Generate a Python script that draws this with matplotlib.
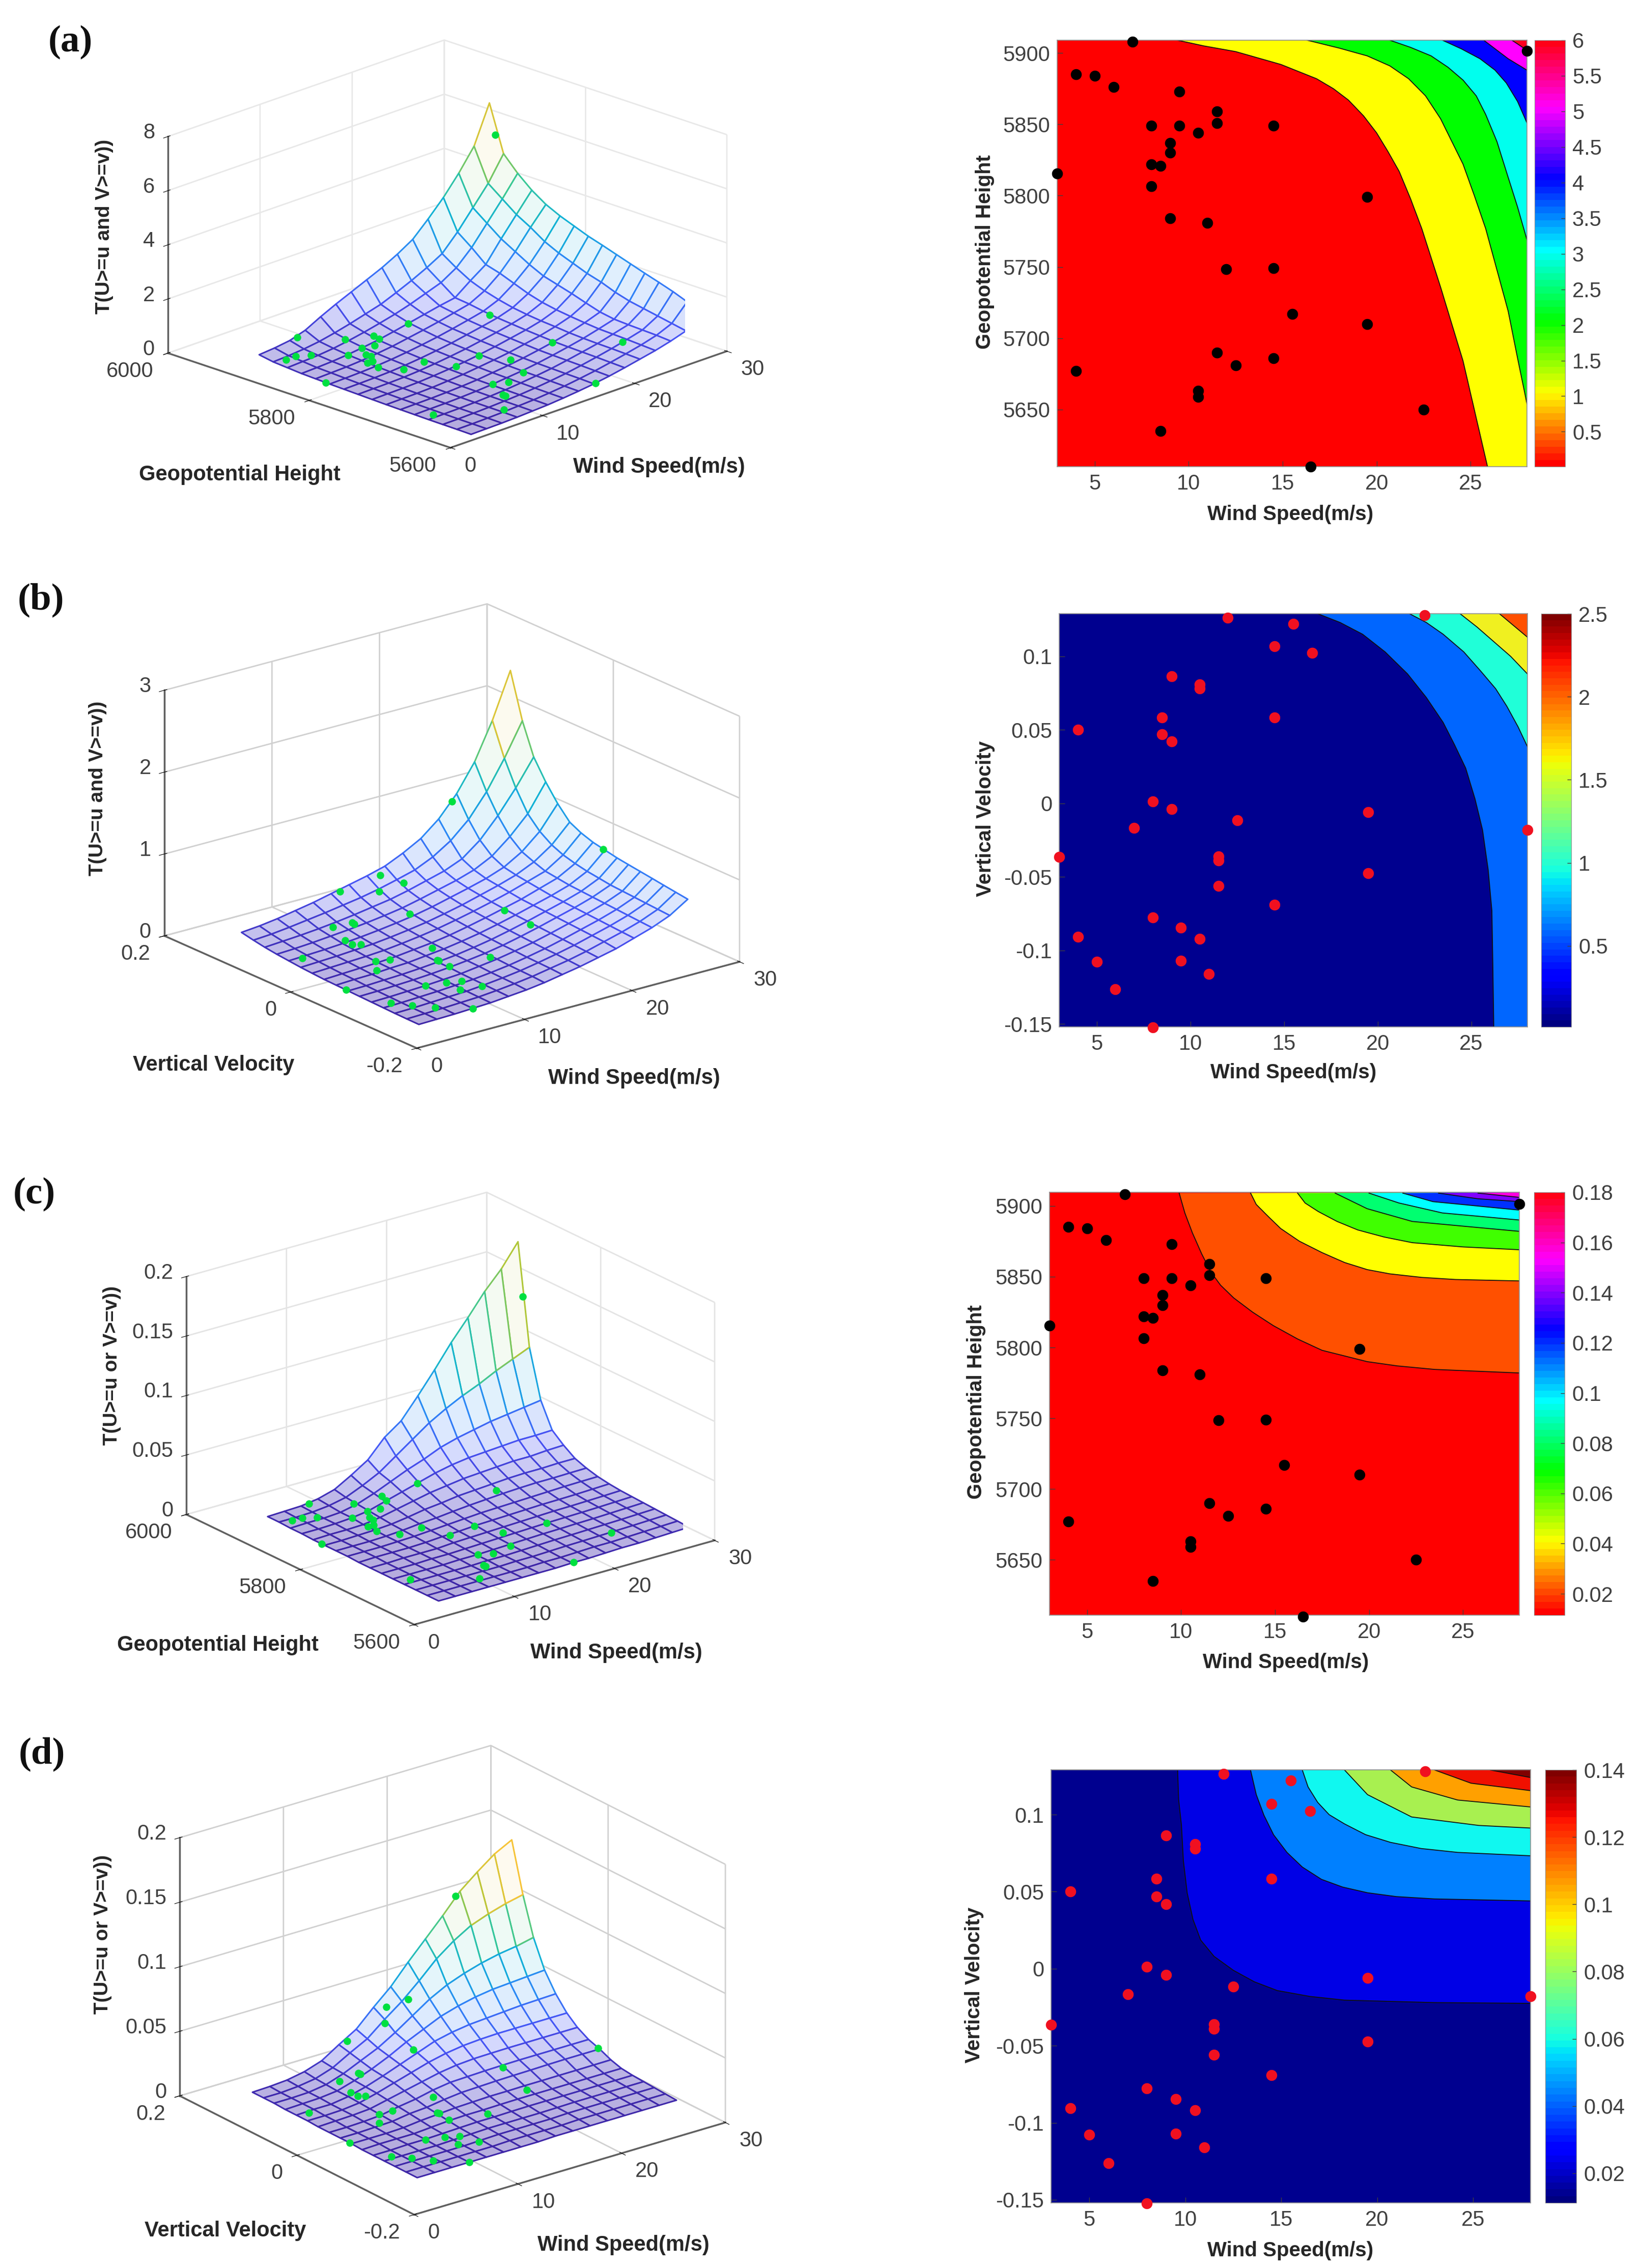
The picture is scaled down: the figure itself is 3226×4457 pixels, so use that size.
import numpy as np
import matplotlib
matplotlib.use("Agg")
import matplotlib.pyplot as plt
from matplotlib.cm import ScalarMappable
from matplotlib.colors import LinearSegmentedColormap, Normalize
from mpl_toolkits.mplot3d import proj3d

W, H = 3226, 4457
plt.rcParams['font.family'] = ['Liberation Sans', 'DejaVu Sans']
plt.rcParams['axes.unicode_minus'] = False

wind_g = [7, 4, 5, 6, 9.5, 11.5, 11.5, 8, 9.5, 10.5, 14.5, 9, 9, 8, 8.5, 3, 8, 19.5, 9, 11, 12, 14.5, 15.5, 19.5, 11.5, 14.5, 12.5, 4, 10.5, 10.5, 22.5, 8.5, 16.5, 28]
gph = [5908, 5885, 5884, 5876, 5873, 5859, 5851, 5849, 5849, 5844, 5849, 5837, 5830, 5822, 5821, 5815.5, 5806.5, 5799, 5784, 5781, 5748.5, 5749, 5717, 5710, 5690, 5686, 5681, 5677, 5663, 5659, 5650, 5635, 5610, 5901.5]
wind_v = [12, 15.5, 14.5, 16.5, 9, 10.5, 10.5, 8.5, 14.5, 4, 8.5, 9, 8, 9, 19.5, 12.5, 7, 28, 3, 11.5, 11.5, 19.5, 11.5, 14.5, 8, 9.5, 4, 10.5, 5, 9.5, 11, 6, 8, 22.5]
vvel = [0.1264, 0.122, 0.107, 0.1025, 0.0866, 0.081, 0.078, 0.0585, 0.0585, 0.05, 0.047, 0.042, 0.0013, -0.004, -0.006, -0.0115, -0.0166, -0.018, -0.0365, -0.036, -0.039, -0.0474, -0.056, -0.069, -0.0777, -0.0846, -0.0906, -0.092, -0.1076, -0.107, -0.116, -0.1264, -0.1523, 0.128]

# return period of each point
t_a = [.55, .29, .30, .30, .48, .50, .46, .30, .37, .40, .68, .30, .30, .24, .26, .17, .22, .85, .22, .29, .28, .38, .38, .61, .20, .30, .23, .08, .15, .15, .80, .10, .34, 5.6]
t_b = [.37, .46, .35, .40, .18, .20, .19, .13, .24, .10, .12, .12, .09, .09, .33, .14, .075, .82, .045, .11, .11, .30, .10, .15, .06, .07, .035, .08, .03, .06, .08, .035, .04, 1.1]
t_c = [.014, .012, .012, .012, .016, .021, .019, .013, .015, .016, .027, .014, .0135, .012, .0125, .011, .012, .0205, .012, .0135, .0125, .014, .0135, .014, .011, .012, .0115, .0105, .0105, .0105, .0125, .0105, .011, .14]
t_d = [.031, .05, .043, .058, .016, .02, .02, .015, .034, .012, .015, .015, .0125, .014, .023, .018, .012, .0205, .011, .014, .014, .015, .013, .0135, .011, .011, .0105, .011, .0105, .0105, .011, .0105, .0105, .118]

# mesh nodes
wind_grid = [3, 4.67, 6.33, 8, 9.67, 11.33, 13, 14.67, 16.33, 18, 19.67, 21.33, 23, 24.67, 26.33, 28]
gph_grid = [5610, 5630, 5650, 5670, 5690, 5710, 5730, 5750, 5770, 5790, 5810, 5830, 5850, 5870, 5890, 5910]
vv_grid = [-.152, -.133, -.114, -.096, -.077, -.058, -.040, -.021, -.002, .017, .035, .054, .073, .092, .110, .129]

surf_a = [
    [.05, .06, .07, .09, .12, .15, .20, .26, .33, .42, .53, .65, .77, .92, 1.1, 1.6],
    [.06, .065, .08, .10, .13, .16, .21, .27, .35, .44, .55, .67, .80, .96, 1.2, 1.8],
    [.065, .07, .085, .105, .135, .17, .22, .285, .36, .46, .57, .69, .83, .98, 1.3, 2.0],
    [.07, .08, .09, .11, .14, .18, .235, .30, .375, .475, .585, .70, .85, 1.0, 1.4, 2.17],
    [.08, .09, .10, .12, .15, .19, .25, .31, .39, .49, .60, .72, .87, 1.03, 1.5, 2.33],
    [.09, .10, .11, .13, .16, .20, .265, .33, .41, .51, .62, .75, .92, 1.12, 1.65, 2.5],
    [.10, .11, .12, .14, .18, .225, .29, .36, .44, .55, .66, .80, .98, 1.28, 1.85, 2.67],
    [.115, .125, .135, .155, .195, .245, .31, .39, .48, .59, .70, .84, 1.05, 1.45, 2.0, 2.84],
    [.13, .14, .15, .17, .21, .27, .34, .42, .52, .63, .75, .90, 1.15, 1.6, 2.2, 3.0],
    [.145, .155, .17, .195, .24, .30, .375, .46, .57, .68, .80, .98, 1.3, 1.75, 2.4, 3.2],
    [.16, .175, .195, .225, .275, .34, .42, .51, .62, .74, .87, 1.1, 1.5, 2.0, 2.65, 3.4],
    [.18, .20, .22, .26, .32, .39, .49, .59, .70, .83, .96, 1.25, 1.7, 2.3, 3.0, 3.65],
    [.20, .22, .25, .30, .37, .45, .56, .68, .80, .92, 1.02, 1.45, 1.85, 2.6, 3.3, 4.0],
    [.24, .27, .30, .36, .45, .56, .69, .83, 1.0, 1.2, 1.4, 1.75, 2.3, 3.0, 3.7, 4.45],
    [.28, .31, .36, .44, .56, .70, .86, 1.02, 1.25, 1.5, 1.78, 2.1, 2.7, 3.4, 4.1, 5.0],
    [.37, .42, .50, .68, .98, 1.25, 1.5, 1.75, 2.0, 2.3, 2.65, 3.2, 3.8, 4.5, 5.3, 6.7],
]
surf_b = [
    [.02, .025, .03, .04, .05, .07, .09, .12, .16, .20, .25, .30, .37, .44, .53, .67],
    [.022, .028, .035, .045, .055, .075, .10, .13, .17, .21, .26, .32, .38, .45, .54, .69],
    [.025, .03, .04, .05, .06, .08, .105, .135, .175, .22, .27, .33, .39, .46, .55, .71],
    [.03, .035, .045, .055, .07, .085, .11, .14, .18, .225, .28, .34, .40, .47, .56, .73],
    [.035, .04, .05, .06, .075, .09, .12, .15, .19, .235, .29, .35, .41, .48, .57, .75],
    [.04, .045, .055, .065, .08, .10, .125, .155, .195, .245, .30, .36, .42, .49, .58, .77],
    [.045, .05, .06, .07, .085, .105, .13, .165, .205, .255, .31, .37, .43, .50, .60, .79],
    [.05, .06, .065, .08, .09, .115, .14, .175, .215, .265, .32, .38, .44, .51, .62, .82],
    [.055, .065, .075, .085, .10, .125, .15, .185, .23, .28, .335, .39, .46, .53, .65, .85],
    [.065, .075, .085, .095, .11, .135, .165, .20, .245, .295, .35, .41, .48, .55, .69, .90],
    [.075, .085, .095, .11, .125, .15, .18, .215, .26, .31, .37, .43, .50, .60, .75, .97],
    [.09, .10, .11, .125, .145, .17, .20, .235, .28, .335, .39, .45, .53, .66, .85, 1.13],
    [.105, .115, .13, .15, .17, .195, .225, .26, .31, .365, .42, .49, .60, .78, 1.0, 1.33],
    [.125, .14, .155, .175, .20, .23, .265, .30, .35, .41, .47, .56, .73, .97, 1.25, 1.57],
    [.15, .165, .19, .22, .25, .285, .32, .365, .42, .48, .58, .72, .92, 1.2, 1.55, 1.95],
    [.18, .20, .23, .27, .31, .36, .41, .46, .52, .62, .74, .92, 1.17, 1.5, 1.95, 2.5],
]
surf_c = [
    [.0105, .0105, .0105, .0105, .0105, .0105, .0105, .0105, .011, .011, .0115, .012, .012, .0125, .013, .0135],
    [.0105, .0105, .0105, .0105, .0105, .0105, .0105, .011, .011, .0115, .012, .012, .0125, .013, .0135, .014],
    [.0105, .0105, .0105, .0105, .0105, .0105, .011, .011, .0115, .012, .0123, .0127, .0131, .0135, .014, .0145],
    [.0105, .0105, .0105, .0105, .0105, .011, .011, .0115, .012, .0125, .0128, .0132, .0136, .014, .0145, .015],
    [.0105, .0105, .0105, .0105, .011, .011, .0115, .012, .0125, .013, .0133, .0137, .014, .0145, .015, .0155],
    [.0105, .0105, .0105, .011, .011, .0115, .012, .0125, .013, .0135, .014, .0143, .0146, .015, .0155, .016],
    [.0105, .0105, .011, .011, .011, .012, .0125, .013, .0135, .014, .0145, .015, .0152, .0156, .016, .0165],
    [.0105, .011, .011, .011, .0115, .0125, .013, .014, .0145, .015, .0155, .016, .0162, .0165, .017, .0175],
    [.011, .011, .011, .0115, .012, .013, .014, .015, .016, .0165, .017, .0175, .018, .0185, .0188, .019],
    [.011, .011, .011, .0115, .0125, .014, .015, .0165, .0178, .0188, .0198, .0205, .021, .021, .0213, .0215],
    [.011, .011, .0115, .012, .013, .015, .0175, .019, .021, .022, .023, .024, .0245, .0245, .025, .025],
    [.011, .0115, .0115, .012, .014, .017, .02, .023, .025, .027, .028, .029, .030, .030, .031, .0315],
    [.0115, .0115, .012, .013, .015, .019, .023, .027, .031, .034, .036, .037, .038, .039, .039, .0395],
    [.0115, .012, .012, .013, .016, .021, .027, .033, .038, .044, .048, .051, .054, .056, .058, .06],
    [.012, .012, .0125, .014, .017, .023, .03, .04, .05, .06, .068, .075, .081, .088, .094, .10],
    [.012, .0125, .013, .015, .019, .027, .036, .051, .061, .078, .096, .115, .132, .15, .165, .184],
]
surf_d = [
    [.0105, .0105, .0105, .0105, .0105, .0105, .0105, .0105, .011, .011, .011, .011, .011, .011, .011, .011],
    [.0105, .0105, .0105, .0105, .0105, .0105, .011, .011, .011, .011, .0115, .0115, .0115, .0115, .0115, .0115],
    [.0105, .0105, .0105, .0105, .0105, .011, .0115, .0115, .0115, .0115, .012, .012, .012, .012, .012, .012],
    [.0105, .0105, .0105, .0105, .011, .0115, .012, .012, .012, .012, .0122, .0125, .0125, .0125, .0125, .0125],
    [.0105, .0105, .011, .011, .0115, .012, .0125, .0125, .0128, .013, .013, .013, .013, .013, .013, .013],
    [.0105, .011, .011, .011, .012, .013, .0135, .0135, .0138, .014, .014, .014, .014, .014, .014, .014],
    [.011, .011, .011, .0115, .013, .014, .015, .0155, .016, .016, .0162, .0162, .0163, .0163, .0164, .0165],
    [.011, .011, .0115, .012, .014, .015, .017, .0185, .019, .0195, .0198, .02, .0203, .0205, .0205, .0205],
    [.011, .011, .0115, .0125, .015, .017, .02, .022, .0225, .023, .0233, .0235, .0235, .0235, .0235, .0235],
    [.011, .0115, .012, .013, .016, .019, .022, .025, .027, .028, .0283, .0285, .0285, .0285, .0285, .0285],
    [.0115, .0115, .012, .0135, .017, .021, .025, .029, .032, .034, .035, .0355, .0355, .0355, .0355, .0355],
    [.0115, .012, .012, .014, .0175, .022, .027, .032, .037, .04, .042, .043, .044, .045, .0455, .046],
    [.0115, .012, .0125, .014, .018, .023, .029, .036, .042, .048, .052, .055, .057, .058, .059, .06],
    [.012, .012, .0125, .0145, .019, .025, .031, .039, .048, .057, .064, .069, .073, .076, .078, .081],
    [.012, .012, .013, .015, .0195, .027, .034, .045, .055, .067, .08, .09, .098, .103, .107, .11],
    [.012, .0125, .0135, .016, .0205, .029, .037, .05, .062, .077, .091, .105, .12, .131, .141, .148],
]

# contour boundaries
bound_a_w = [
    [9.4, 10.8, 12.5, 14.9, 16.8, 17.7, 18.5, 19.3, 20, 20.6, 21.2, 21.8, 22.4, 23.4, 24.6, 25.9],
    [16.3, 18, 19.5, 20.7, 21.7, 22.6, 23.4, 24, 24.6, 25.2, 25.8, 26.4, 27, 27.5, 28],
    [20.7, 21.8, 22.9, 23.8, 24.6, 25.3, 25.8, 26.4, 26.9, 27.5, 28],
    [23.5, 24.5, 25.5, 26.3, 26.9, 27.5, 28],
    [25.7, 27, 28],
    [27.2, 28],
]
bound_a_y = [
    [5909, 5905, 5901, 5892, 5882, 5875, 5867, 5856, 5844, 5831, 5817, 5798, 5777, 5736, 5684, 5610],
    [5909, 5903.5, 5898, 5891, 5882, 5870, 5854, 5838, 5822, 5800, 5777, 5748, 5719, 5686, 5654],
    [5909, 5904, 5898, 5890, 5881, 5870, 5857, 5838, 5817, 5792, 5769],
    [5909, 5903, 5896, 5888, 5879, 5866, 5851],
    [5909, 5896, 5888],
    [5909, 5902],
]
bound_b_w = [
    [16.8, 18, 19.2, 20.4, 21.6, 22.6, 23.5, 24.1, 24.7, 25.2, 25.6, 25.9, 26.1, 26.15, 26.2],
    [21.7, 22.6, 23.5, 24.6, 25.5, 26.3, 26.9, 27.5, 28],
    [24.4, 25.3, 26.2, 27.1, 28],
    [26.5, 28],
]
bound_b_y = [
    [.129, .123, .115, .103, .088, .072, .055, .04, .024, .003, -.018, -.045, -.073, -.11, -.152],
    [.129, .123, .115, .103, .09, .078, .066, .052, .0385],
    [.129, .12, .11, .1, .088],
    [.129, .113],
]
bound_c_w = [
    [9.9, 10.2, 10.6, 11.1, 11.6, 12.1, 12.8, 13.8, 14.9, 16.2, 17.5, 18.7, 19.9, 21.5, 23.5, 28],
    [13.7, 14, 14.6, 15.3, 16.3, 17.5, 18.7, 19.9, 21.1, 22.8, 24.6, 28],
    [16.2, 16.6, 17.3, 18.3, 19.4, 20.8, 22.3, 25, 28],
    [18.2, 19.9, 22.3, 28],
    [20, 21.6, 23.9, 28],
    [21.8, 23.4, 28],
    [23.7, 25.8, 28],
    [25.8, 28],
]
bound_c_y = [
    [5909, 5895, 5881, 5866, 5853, 5844, 5835, 5825, 5815.5, 5806, 5798, 5794, 5790, 5787, 5784.5, 5782],
    [5909, 5901, 5893, 5884, 5875, 5867, 5860, 5855, 5852, 5849.5, 5848, 5847],
    [5909, 5902, 5896, 5889, 5883, 5878, 5874, 5871, 5869],
    [5909, 5898, 5889, 5882],
    [5909, 5902, 5895, 5890],
    [5909, 5903, 5897],
    [5909, 5905, 5903],
    [5909, 5906],
]
bound_d_w = [
    [9.6, 9.65, 9.8, 9.9, 10.1, 10.4, 10.8, 11.5, 12.5, 13.6, 14.8, 16.5, 18.3, 23, 28],
    [13.4, 13.7, 14.1, 14.6, 15.3, 16.1, 17.1, 18.2, 19.5, 21, 23, 28],
    [16.1, 16.4, 16.9, 17.5, 18.3, 19.4, 20.7, 22.3, 24.2, 28],
    [18.3, 19.5, 21.8, 25.3, 28],
    [20.7, 21.8, 24.2, 28],
    [23, 24.9, 28],
    [25.9, 28],
]
bound_d_y = [
    [.129, .11, .093, .07, .049, .032, .0186, .008, -.001, -.0085, -.0142, -.018, -.0204, -.022, -.0225],
    [.129, .113, .0996, .087, .0755, .066, .058, .053, .0493, .0468, .0453, .044],
    [.129, .118, .108, .1, .094, .087, .082, .078, .0755, .0733],
    [.129, .113, .0985, .093, .0913],
    [.129, .118, .1095, .105],
    [.129, .1204, .1156],
    [.129, .1241],
]

band_a = ['#ff0000', '#ffff00', '#00ff00', '#00ffee', '#0000ff', '#ff00ff', '#ff0020']
band_b = ['#00008f', '#0066ff', '#20ffd8', '#f0f020', '#ff5000']
band_c = ['#ff0000', '#ff5000', '#ffff00', '#40ff00', '#00ff70', '#00ffff', '#0030ff', '#8000ff', '#ff00e0']
band_d = ['#00008f', '#0000e6', '#0080ff', '#10f8f0', '#a8f050', '#ffa000', '#f01000', '#800000']

gph_ticks = [5650, 5700, 5750, 5800, 5850, 5900]
vv_ticks = [-.15, -.1, -.05, 0, .05, .1]
vv_labels = ['-0.15', '-0.1', '-0.05', '0', '0.05', '0.1']
wind_ticks = [5, 10, 15, 20, 25]

cb_a_ticks = [.5, 1, 1.5, 2, 2.5, 3, 3.5, 4, 4.5, 5, 5.5, 6]
cb_b_ticks = [.5, 1, 1.5, 2, 2.5]
cb_c_ticks = [.02, .04, .06, .08, .1, .12, .14, .16, .18]
cb_d_ticks = [.02, .04, .06, .08, .1, .12, .14]

parula = LinearSegmentedColormap.from_list('parula', [
    (0.2422, 0.1504, 0.6603), (0.2810, 0.3228, 0.9579), (0.1786, 0.5289, 0.9682),
    (0.0689, 0.6948, 0.8394), (0.2161, 0.7843, 0.5923), (0.6720, 0.7793, 0.2227),
    (0.9970, 0.7659, 0.2199), (0.9769, 0.9839, 0.0805)])

TICK = '#404040'
fig = plt.figure(figsize=(W / 100, H / 100), dpi=100)


def put_text(x, y, s, **kw):
    fig.text(x / W, 1 - y / H, s, ha='center', va='center', **kw)


def filled_panel(box, cbox, ylim, bw, by, bands, yticks, ylabels, px, py, dot, cmap, clim, cticks, ylab, ylab_xy, xlab_xy):
    l, t, r, b = box
    ax = fig.add_axes([l / W, 1 - b / H, (r - l) / W, (b - t) / H])
    ax.set_xlim(3, 28)
    ax.set_ylim(ylim)
    ax.set_facecolor(bands[0])
    for xs, ys, col in zip(bw, by, bands[1:]):
        # region between the traced boundary and the top right corner
        ax.fill(list(xs) + [28, 28], list(ys) + [ys[-1], ylim[1]], color=col, lw=0, zorder=1)
        ax.plot(xs, ys, color='#101010', lw=1.3, zorder=2)
    ax.scatter(px, py, s=240, c=dot, lw=0, clip_on=False, zorder=5)
    ax.set_xticks(wind_ticks)
    ax.set_yticks(yticks)
    ax.set_yticklabels(ylabels)
    ax.tick_params(direction='in', length=8, width=1, colors=TICK, labelsize=30, pad=10)
    for sp in ax.spines.values():
        sp.set_color('#909090')
        sp.set_linewidth(1.2)

    l, t, r, b = cbox
    cax = fig.add_axes([l / W, 1 - b / H, (r - l) / W, (b - t) / H])
    sm = ScalarMappable(Normalize(*clim), plt.get_cmap(cmap, 64))
    cb = fig.colorbar(sm, cax=cax, ticks=cticks)
    cb.ax.set_yticklabels(['%g' % v for v in cticks])
    cb.ax.tick_params(direction='in', length=6, width=1, colors=TICK, labelsize=30, pad=10)
    cb.outline.set_edgecolor('#909090')
    put_text(*ylab_xy, ylab, rotation=90, fontsize=29, fontweight='bold', color='#262626')
    put_text(*xlab_xy, 'Wind Speed(m/s)', fontsize=29, fontweight='bold', color='#262626')


def mesh_panel(ylim, ygrid, surf, zmax, zticks, zlabels, yticks, ylabels, px, py, pz, view, aspect,
               front, left, right, grid_col, zlab, zlab_xy, wind_xy, ylab, ylab_xy):
    ax = fig.add_axes([.1, .1, .3, .2], projection='3d', proj_type='ortho', computed_zorder=False)
    ax.patch.set_visible(False)
    ax.view_init(elev=view[0], azim=view[1])
    ax.set_box_aspect(aspect, zoom=1.2)
    ax.set_xlim(0, 30)
    ax.set_ylim(*ylim)
    ax.set_zlim(0, zmax)
    X, Y = np.meshgrid(wind_grid, ygrid)
    Z = np.array(surf)
    norm = Normalize(Z.min(), Z.max())
    mid = (Z[:-1, :-1] + Z[1:, :-1] + Z[:-1, 1:] + Z[1:, 1:]) / 4
    edge = parula(norm(mid)).reshape(-1, 4)
    # pale tint in the low cells, where the original mesh lines crowd together
    mix = (.08 + .3 * (1 - norm(mid)) ** 4).reshape(-1, 1)
    face = 1 - mix + mix * edge
    face[:, 3] = 1
    s = ax.plot_surface(X, Y, Z, rstride=1, cstride=1, color='white', shade=False, lw=2.2, zorder=2)
    s.set_facecolor(face)
    s.set_edgecolor(edge)
    ax.scatter(px, py, pz, s=110, c='#00e040', depthshade=False, lw=0, zorder=3)
    ax.set_xticks([0, 10, 20, 30])
    ax.set_yticks(yticks)
    ax.set_zticks(zticks)
    ax.set_xticklabels([])
    ax.set_yticklabels([])
    ax.set_zticklabels([])
    for axis in (ax.xaxis, ax.yaxis, ax.zaxis):
        axis.set_pane_color((1, 1, 1, 0))
        axis.pane.set_edgecolor(grid_col)
        axis.pane.set_linewidth(2)
        axis.line.set_color('#606060')
        axis.line.set_linewidth(2.5)
        axis._axinfo['grid'].update(color=grid_col, linewidth=2)
    # move the box so its floor corners land where they sit in the figure
    side = 800.0
    cx, cy = left[0], left[1]
    for _ in range(4):
        ax.set_position([(cx - side / 2) / W, 1 - (cy + side / 2) / H, side / W, side / H])
        ax.apply_aspect()
        M = ax.get_proj()
        pts = []
        for c in ((0, ylim[0]), (0, ylim[1]), (30, ylim[0])):
            u, v, _z = proj3d.proj_transform(c[0], c[1], 0, M)
            q = ax.transData.transform((u, v))
            pts.append((q[0], H - q[1]))
        pts = np.array(pts)
        tgt = np.array([front, left, right], dtype=float)
        side *= (tgt[2, 0] - tgt[1, 0]) / (pts[2, 0] - pts[1, 0])
        cx += (tgt - pts)[:, 0].mean()
        cy += (tgt - pts)[:, 1].mean()
    ax.set_position([(cx - side / 2) / W, 1 - (cy + side / 2) / H, side / W, side / H])
    ax.apply_aspect()
    M = ax.get_proj()

    def tick_label(x, y, z, s, dx, dy, ha):
        u, v, _z = proj3d.proj_transform(x, y, z, M)
        ax.annotate(s, (u, v), xytext=(dx, dy), textcoords='offset pixels', ha=ha, va='center',
                    fontsize=30, color=TICK, annotation_clip=False)

    for w in [0, 10, 20, 30]:
        tick_label(w, ylim[0], 0, str(w), 27, -36, 'left')
    for y, s in zip(yticks, ylabels):
        tick_label(0, y, 0, s, -28, -36, 'right')
    for z, s in zip(zticks, zlabels):
        tick_label(0, ylim[1], z, s, -26, 7, 'right')
    put_text(*zlab_xy, zlab, rotation=90, fontsize=28, fontweight='bold', color='#262626')
    put_text(*wind_xy, 'Wind Speed(m/s)', fontsize=30, fontweight='bold', color='#262626')
    put_text(*ylab_xy, ylab, fontsize=30, fontweight='bold', color='#262626')


gph_lim = (5600, 6000)
vv_lim = (-.2, .2)

mesh_panel(gph_lim, gph_grid, surf_a, 8, [0, 2, 4, 6, 8], ['0', '2', '4', '6', '8'], [5600, 5800, 6000], ['5600', '5800', '6000'],
           wind_g, gph, t_a, (20, -135.6), (776, 777, 453), (885, 880), (330, 694), (1428, 690), '#e8e8e8',
           'T(U>=u and V>=v))', (205, 445), (1295, 918), 'Geopotential Height', (471, 933))
mesh_panel(vv_lim, vv_grid, surf_b, 3, [0, 1, 2, 3], ['0', '1', '2', '3'], [-.2, 0, .2], ['-0.2', '0', '0.2'],
           wind_v, vvel, t_b, (20.2, -127.8), (802, 809, 514), (819, 2060), (323, 1839), (1453, 1890), '#d0d0d0',
           'T(U>=u and V>=v))', (192, 1549), (1246, 2119), 'Vertical Velocity', (420, 2093))
mesh_panel(gph_lim, gph_grid, surf_c, .2, [0, .05, .1, .15, .2], ['0', '0.05', '0.1', '0.15', '0.2'], [5600, 5800, 6000], ['5600', '5800', '6000'],
           wind_g, gph, t_c, (21.6, -127.3), (742, 739, 503), (814, 3193), (366, 2976), (1404, 3027), '#e4e4e4',
           'T(U>=u or V>=v))', (220, 2684), (1211, 3248), 'Geopotential Height', (428, 3233))
mesh_panel(vv_lim, vv_grid, surf_d, .2, [0, .05, .1, .15, .2], ['0', '0.05', '0.1', '0.15', '0.2'], [-.2, 0, .2], ['-0.2', '0', '0.2'],
           wind_v, vvel, t_d, (22.8, -127.4), (769, 758, 550), (814, 4352), (353, 4119), (1425, 4171), '#d0d0d0',
           'T(U>=u or V>=v))', (202, 3802), (1225, 4412), 'Vertical Velocity', (443, 4384))

gph_tl = [str(v) for v in gph_ticks]

filled_panel((2077, 79, 3000, 917), (3015, 79, 3075, 917), (5610, 5909), bound_a_w, bound_a_y, band_a, gph_ticks, gph_tl,
             wind_g, gph, 'black', 'hsv', (.01, 6), cb_a_ticks, 'Geopotential Height', (1935, 495), (2535, 1011))
filled_panel((2081, 1206, 3001, 2018), (3028, 1206, 3087, 2018), (-.152, .129), bound_b_w, bound_b_y, band_b, vv_ticks, vv_labels,
             wind_v, vvel, '#f01020', 'jet', (.013, 2.5), cb_b_ticks, 'Vertical Velocity', (1936, 1609), (2541, 2108))
filled_panel((2062, 2343, 2985, 3174), (3014, 2343, 3074, 3174), (5611, 5909.6), bound_c_w, bound_c_y, band_c, gph_ticks, gph_tl,
             wind_g, gph, 'black', 'hsv', (.0115, .18), cb_c_ticks, 'Geopotential Height', (1918, 2755), (2526, 3267))
filled_panel((2065, 3478, 3007, 4329), (3036, 3478, 3097, 4329), (-.152, .1291), bound_d_w, bound_d_y, band_d, vv_ticks, vv_labels,
             wind_v, vvel, '#f01020', 'jet', (.0112, .14), cb_d_ticks, 'Vertical Velocity', (1914, 3901), (2535, 4423))

for txt, x, y in (('(a)', 138, 83), ('(b)', 80, 1179), ('(c)', 67, 2347), ('(d)', 82, 3447)):
    put_text(x, y, txt, family='Liberation Serif', fontsize=54, fontweight='bold', color='#101010')

fig.savefig('out.png', dpi=100)
